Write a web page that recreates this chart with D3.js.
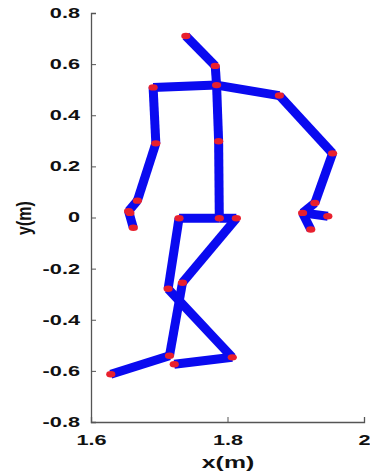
<!DOCTYPE html>
<html><head><meta charset="utf-8">
<script src="https://cdn.jsdelivr.net/npm/d3@7"></script>
<style>html,body{margin:0;padding:0;background:#fff}</style>
</head><body>
<svg id="c" width="370" height="474"></svg>
<script>
const jointNames = ["head","neck","spineShoulder","spineMid","spineBase",
  "shoulderL","elbowL","wristL","handL","tipL","thumbL",
  "shoulderR","elbowR","wristR","handR","tipR","thumbR",
  "hipL","kneeL","ankleL","footL","hipR","kneeR","ankleR","footR"];
const jointX = [1.739,1.782,1.784,1.787,1.788,
  1.691,1.695,1.668,1.655,1.662,1.657,
  1.876,1.954,1.928,1.910,1.922,1.947,
  1.729,1.713,1.807,1.722,1.813,1.734,1.715,1.629];
const jointY = [0.710,0.593,0.518,0.298,-0.003,
  0.509,0.290,0.066,0.025,-0.040,0.018,
  0.477,0.251,0.057,0.018,-0.047,0.005,
  -0.003,-0.279,-0.547,-0.574,-0.003,-0.255,-0.541,-0.613];
const bones = [[0,1],[1,2],[2,3],[3,4],
  [2,5],[5,6],[6,7],[7,8],[8,9],[8,10],
  [2,11],[11,12],[12,13],[13,14],[14,15],[14,16],
  [4,17],[17,18],[18,19],[19,20],
  [4,21],[21,22],[22,23],[23,24]];
const xTicks = [1.6,1.8,2];
const yTicks = [-0.8,-0.6,-0.4,-0.2,0,0.2,0.4,0.6,0.8];

const svg = d3.select("#c");
const x = d3.scaleLinear().domain([1.6,2]).range([91,364]);
const y = d3.scaleLinear().domain([-0.8,0.8]).range([422,13]);
const font = "Helvetica, 'Liberation Sans', Arial, sans-serif";
const fmt = v => String(+v.toFixed(1));
const SX = 1.55;

const gx = svg.append("g").attr("transform","translate(0,422)")
  .call(d3.axisBottom(x).tickValues(xTicks).tickSize(-5).tickPadding(13).tickFormat(fmt));
const gy = svg.append("g").attr("transform","translate(91,0)")
  .call(d3.axisLeft(y).tickValues(yTicks).tickSize(-5).tickPadding(11).tickFormat(fmt));
[gx,gy].forEach(g=>{
  g.select(".domain").attr("stroke","#555").attr("stroke-width",1.3);
  g.selectAll(".tick line").attr("stroke","#555").attr("stroke-width",1);
  g.selectAll("text").attr("font-family",font).attr("font-weight","bold")
    .attr("font-size",14).attr("fill","#111");
});
gy.selectAll(".tick text").each(function(){
  const t = d3.select(this); const ax = +t.attr("x");
  t.attr("x",0).attr("transform",`translate(${ax},0) scale(${SX},1)`);
});
gx.selectAll(".tick text").attr("transform",`scale(${SX},1)`);

svg.append("text").attr("transform",`translate(228,468) scale(${SX},1)`).attr("text-anchor","middle")
  .attr("font-family",font).attr("font-weight","bold").attr("font-size",16).attr("fill","#111").text("x(m)");
svg.append("text").attr("transform","translate(31,218) scale(1.3,1) rotate(-90)").attr("text-anchor","middle")
  .attr("font-family",font).attr("font-weight","bold").attr("font-size",16).attr("fill","#111").text("y(m)");

svg.append("g").selectAll("line").data(bones).join("line")
  .attr("x1",d=>x(jointX[d[0]])).attr("y1",d=>y(jointY[d[0]]))
  .attr("x2",d=>x(jointX[d[1]])).attr("y2",d=>y(jointY[d[1]]))
  .attr("stroke","#0a0af0").attr("stroke-width",9).attr("stroke-linecap","butt");

svg.append("g").selectAll("ellipse").data(jointNames).join("ellipse")
  .attr("cx",(d,i)=>x(jointX[i])).attr("cy",(d,i)=>y(jointY[i]))
  .attr("rx",4.6).attr("ry",3.2).attr("fill","#e8202e");
</script>
</body></html>
